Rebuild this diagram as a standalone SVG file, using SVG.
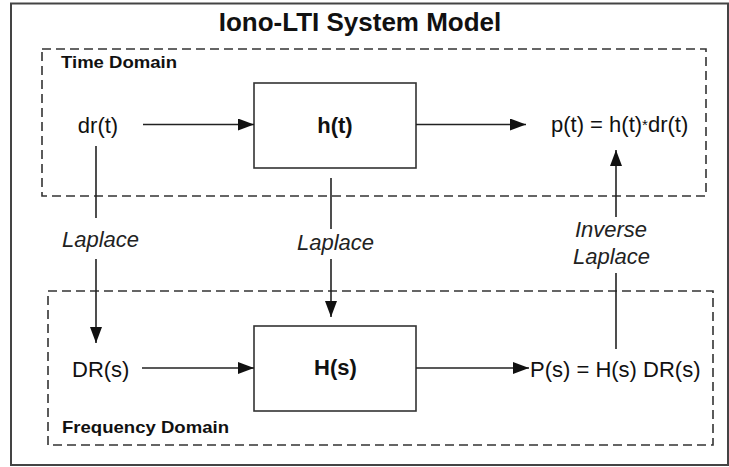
<svg xmlns="http://www.w3.org/2000/svg" width="729" height="467" viewBox="0 0 729 467">
<style>
.t{font-family:"Liberation Sans",Arial,sans-serif;fill:#111}
.lbl{font-size:22px}
.b{font-weight:bold}
.i{font-style:italic;font-size:22px;fill:#222}
.dom{font-size:17px;font-weight:bold}
.box{fill:#fff;stroke:#333;stroke-width:1.6}
.dash{fill:none;stroke:#333;stroke-width:1.6;stroke-dasharray:9 5}
.ln{fill:none;stroke:#222;stroke-width:1.6}
</style>
<defs>
<marker id="ah" markerUnits="userSpaceOnUse" markerWidth="17" markerHeight="13" refX="16" refY="6" orient="auto">
<path d="M0,0 L16,6 L0,12 z" fill="#111"/>
</marker>
</defs>
<rect x="11" y="3.5" width="717" height="461.5" fill="#fff" stroke="#444" stroke-width="2"/>
<text class="t b" x="360" y="31" font-size="26" text-anchor="middle">Iono-LTI System Model</text>
<g id="time-domain">
<rect class="dash" x="42" y="49" width="664" height="147"/>
<text class="t dom" x="61" y="68" textLength="116" lengthAdjust="spacingAndGlyphs">Time Domain</text>
</g>
<g id="freq-domain">
<rect class="dash" x="48" y="291" width="665" height="154"/>
<text class="t dom" x="62" y="433" textLength="167" lengthAdjust="spacingAndGlyphs">Frequency Domain</text>
</g>
<g id="dr-t"><text class="t lbl" x="98" y="133" text-anchor="middle">dr(t)</text></g>
<g id="h-t">
<rect class="box" x="254" y="83" width="162" height="85"/>
<text class="t lbl b" x="335" y="133" text-anchor="middle">h(t)</text>
</g>
<g id="p-t"><text class="t lbl" x="551" y="132">p(t) = h(t)<tspan font-size="15" dy="-2">*</tspan><tspan dy="2">dr(t)</tspan></text></g>
<g id="DR-s"><text class="t lbl" x="72" y="377">DR(s)</text></g>
<g id="H-s">
<rect class="box" x="254" y="326" width="162" height="85"/>
<text class="t lbl b" x="335.5" y="375" text-anchor="middle">H(s)</text>
</g>
<g id="P-s"><text class="t lbl" x="530" y="377">P(s) = H(s) DR(s)</text></g>
<g id="connectors">
<line class="ln" x1="143" y1="124.5" x2="254" y2="124.5" marker-end="url(#ah)"/>
<line class="ln" x1="416" y1="124.5" x2="526" y2="124.5" marker-end="url(#ah)"/>
<line class="ln" x1="96" y1="146" x2="96" y2="218"/>
<line class="ln" x1="96" y1="259" x2="96" y2="343" marker-end="url(#ah)"/>
<line class="ln" x1="331" y1="178" x2="331" y2="229"/>
<line class="ln" x1="331" y1="259" x2="331" y2="317" marker-end="url(#ah)"/>
<line class="ln" x1="616" y1="349" x2="616" y2="273"/>
<line class="ln" x1="616" y1="217" x2="616" y2="150" marker-end="url(#ah)"/>
<line class="ln" x1="142" y1="368" x2="254" y2="368" marker-end="url(#ah)"/>
<line class="ln" x1="416" y1="368" x2="529" y2="368" marker-end="url(#ah)"/>
<text class="t i" x="100.5" y="247" text-anchor="middle">Laplace</text>
<text class="t i" x="335.5" y="250" text-anchor="middle">Laplace</text>
<text class="t i" x="611" y="237" text-anchor="middle">Inverse</text>
<text class="t i" x="611.5" y="264" text-anchor="middle">Laplace</text>
</g>
</svg>
